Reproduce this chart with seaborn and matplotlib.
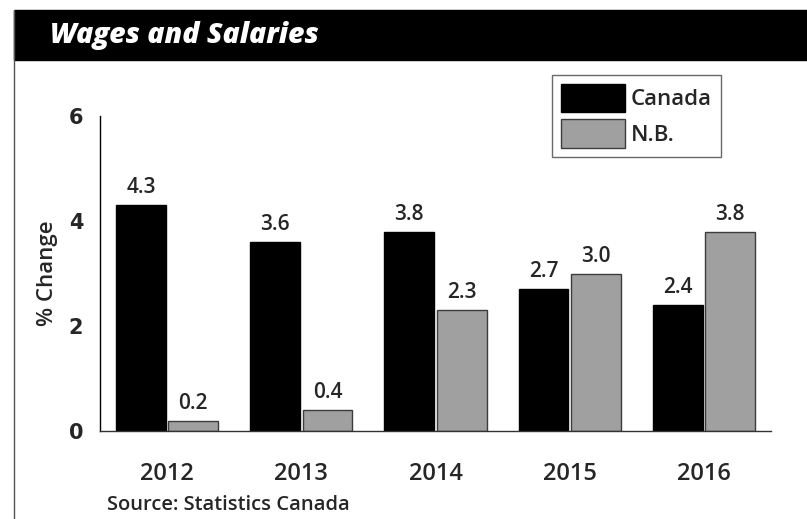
import pandas as pd
import numpy as np
import matplotlib
matplotlib.use("Agg")
import matplotlib.pyplot as plt
import seaborn as sb
from matplotlib.patches import Rectangle
from matplotlib.lines import Line2D

years = ["2012", "2013", "2014", "2015", "2016"]
canada = [4.3, 3.6, 3.8, 2.7, 2.4]
nb = [0.2, 0.4, 2.3, 3.0, 3.8]
regions = ["Canada", "N.B."]
y_ticks = [0, 2, 4, 6]

df = pd.DataFrame({
    "year": years * 2,
    "value": canada + nb,
    "region": [regions[0]] * len(years) + [regions[1]] * len(years),
})

sb.set_style("white")
FONT = ["Open Sans", "DejaVu Sans"]
plt.rcParams["font.family"] = FONT
plt.rcParams["font.weight"] = "semibold"

W, H = 807, 519
fig = plt.figure(figsize=(W / 100, H / 100), dpi=100)
ax = fig.add_axes([100 / W, 1 - 431 / H, 671 / W, 315 / H])

sb.barplot(data=df, x="year", y="value", hue="region", palette=["black", "#a0a0a0"],
           width=0.78, gap=0.05, linewidth=1, edgecolor="black", legend=False, ax=ax)

# grey bars get a dark grey outline
for p in ax.containers[1]:
    p.set_edgecolor("#3c3c3c")

for c in ax.containers:
    ax.bar_label(c, fmt="%.1f", padding=5, fontsize=15, fontweight="semibold")

ax.set_xlim(-0.5, 4.5)
ax.set_ylim(0, 6)
ax.set_yticks(y_ticks)
ax.set_yticklabels([str(t) for t in y_ticks], family="DejaVu Sans", fontweight="heavy", fontsize=15)
ax.tick_params(axis="y", length=0, pad=12)
ax.tick_params(axis="x", length=0, pad=22)
for lab in ax.get_xticklabels():
    lab.set_fontsize(17)
    lab.set_fontweight("semibold")
ax.set_xlabel("")
ax.set_ylabel("% Change", fontsize=16, fontweight="semibold")
ax.yaxis.set_label_coords(-0.062, 0.5)
sb.despine(ax=ax)
ax.spines["left"].set_linewidth(1)
ax.spines["bottom"].set_linewidth(1)
ax.spines["left"].set_color("black")
ax.spines["bottom"].set_color("#333333")

handles = [Rectangle((0, 0), 1, 1, facecolor="black", edgecolor="black"),
           Rectangle((0, 0), 1, 1, facecolor="#a0a0a0", edgecolor="#3c3c3c")]
leg = fig.legend(handles, regions, loc="upper left", bbox_to_anchor=(552 / W, 1 - 75 / H),
                 prop={"size": 16, "weight": "semibold"},
                 handlelength=2.9, handleheight=1.6, handletextpad=0.25,
                 labelspacing=0.3, borderpad=0.4, borderaxespad=0, fancybox=False,
                 frameon=True, edgecolor="#444444")
leg.get_frame().set_linewidth(1)

# title bar and frame
fig.patches.append(Rectangle((14 / W, 1 - 60 / H), 1 - 14 / W, 50 / H,
                             transform=fig.transFigure, color="black", zorder=0))
fig.lines.append(Line2D([14 / W, 14 / W], [0, 1 - 10 / H], transform=fig.transFigure,
                        color="#555555", lw=1))
fig.text(50 / W, 1 - 35 / H, "Wages and Salaries", color="white", fontsize=20.5,
         fontweight="heavy", fontstyle="italic", va="center", ha="left")
fig.text(107 / W, 1 - 505 / H, "Source: Statistics Canada", fontsize=14.5,
         fontweight="semibold", va="center", ha="left")

fig.savefig("out.png", dpi=100)
